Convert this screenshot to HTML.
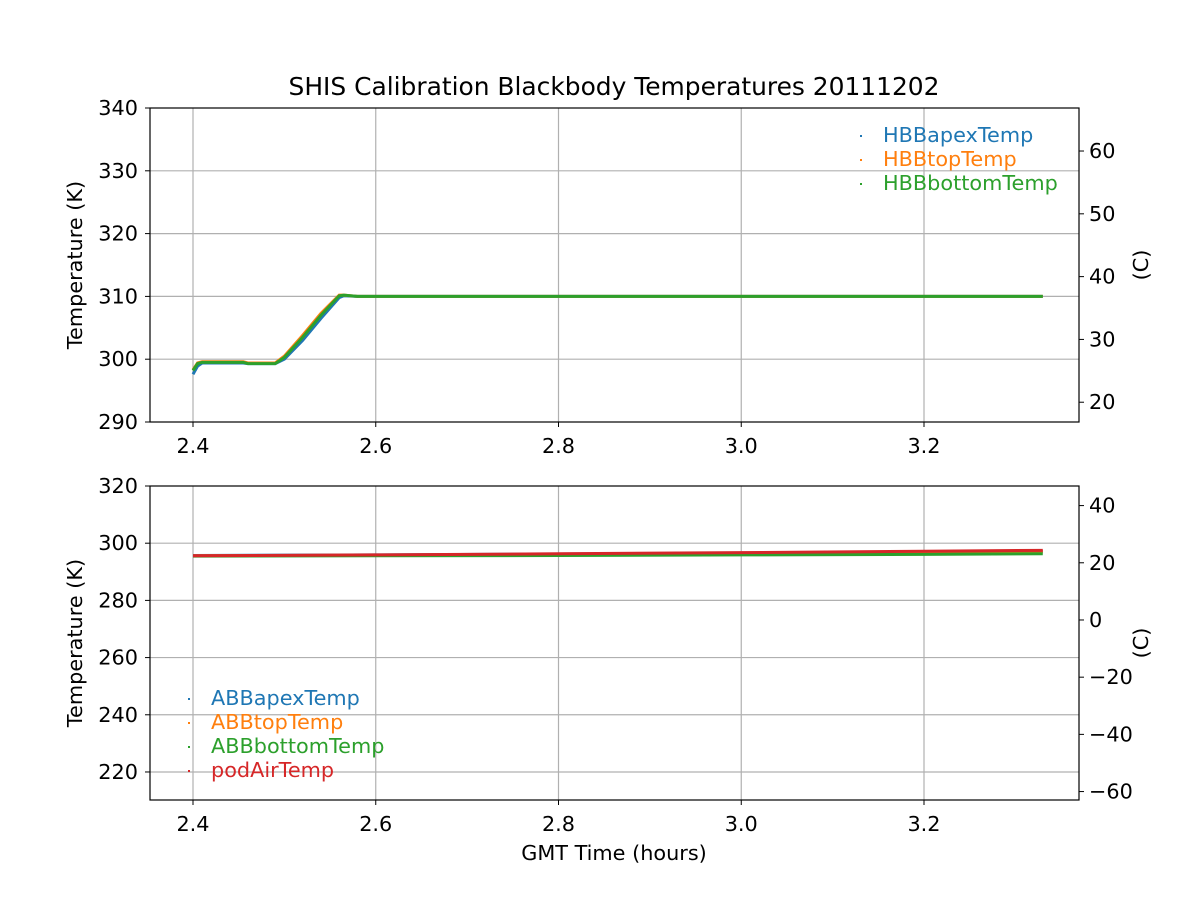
<!DOCTYPE html>
<html><head><meta charset="utf-8"><style>
body{margin:0;background:#fff;font-family:"Liberation Sans","DejaVu Sans",sans-serif}
svg text{font-family:"DejaVu Sans","Liberation Sans",sans-serif;font-size:20.8px;fill:#000}
</style></head><body>
<svg id="c" width="1200" height="900"></svg>
<script>
const hbbTimes=[2.40,2.405,2.41,2.455,2.46,2.49,2.50,2.52,2.54,2.56,2.565,2.58,2.70,3.00,3.33];
const hbbApex=[297.6,298.9,299.4,299.4,299.3,299.3,300.0,303.0,306.5,309.8,310.1,310.0,310.0,310.0,310.0];
const hbbTop=[298.3,299.4,299.6,299.6,299.4,299.4,300.5,303.8,307.3,310.2,310.2,310.0,310.0,310.0,310.0];
const hbbBottom=[298.2,299.3,299.5,299.5,299.3,299.3,300.3,303.5,307.0,310.1,310.2,310.0,310.0,310.0,310.0];
const abbTimes=[2.40,2.6,2.8,3.0,3.2,3.33];
const abbApex=[295.7,295.9,296.2,296.5,296.9,297.1];
const abbTop=[295.6,295.8,296.1,296.4,296.8,297.0];
const abbBottom=[295.5,295.6,295.7,295.9,296.1,296.3];
const podAir=[295.6,295.9,296.3,296.7,297.2,297.5];
const xTicks=[2.4,2.6,2.8,3.0,3.2];
const topYTicks=[290,300,310,320,330,340];
const topCTicks=[20,30,40,50,60];
const botYTicks=[220,240,260,280,300,320];
const botCTicks=[-60,-40,-20,0,20,40];
const NS="http://www.w3.org/2000/svg";
const svg=document.getElementById('c');
function el(t,a,p){const e=document.createElementNS(NS,t);for(const k in a)e.setAttribute(k,a[k]);(p||svg).appendChild(e);return e;}
const L=150,R=1079;
const xs=v=>193+(v-2.4)*913.75;
function panel(name,top,bot,ymin,ymax,yt,ct,series,lx,ly){
  const g=el('g',{});
  
  
  const ys=v=>bot-(v-ymin)/(ymax-ymin)*(bot-top);
  xTicks.forEach(t=>{const l=el('line',{x1:xs(t),x2:xs(t),y1:top,y2:bot,stroke:'#b0b0b0','stroke-width':1.2},g);
    el('line',{x1:xs(t),x2:xs(t),y1:bot,y2:bot+5,stroke:'#000'},g);
    const tx=el('text',{x:xs(t),y:bot+31,'text-anchor':'middle'},g);tx.textContent=t.toFixed(1);});
  yt.forEach(t=>{const y=ys(t);if(t>ymin&&t<ymax)el('line',{x1:L,x2:R,y1:y,y2:y,stroke:'#b0b0b0','stroke-width':1.2},g);
    el('line',{x1:L-5,x2:L,y1:y,y2:y,stroke:'#000'},g);
    const tx=el('text',{x:L-12,y:y+7,'text-anchor':'end'},g);tx.textContent=t;});
  ct.forEach(t=>{const y=ys(t+273.15);el('line',{x1:R,x2:R+5,y1:y,y2:y,stroke:'#000'},g);
    const tx=el('text',{x:R+10,y:y+7},g);tx.textContent=t<0?'\u2212'+(-t):t;});
  series.forEach(s=>{const pts=s.t.map((t,i)=>xs(t)+','+ys(s.v[i])).join(' ');
    const p=el('polyline',{points:pts,fill:'none',stroke:s.c,'stroke-width':3},g);
    });
  el('rect',{x:L,y:top,width:R-L,height:bot-top,fill:'none',stroke:'#000','stroke-width':1.2},g);
  const yl=el('text',{transform:`translate(82,${(top+bot)/2}) rotate(-90)`,'text-anchor':'middle'},g);yl.textContent='Temperature (K)';
  
  const cl=el('text',{transform:`translate(1148,${(top+bot)/2}) rotate(-90)`,'text-anchor':'middle'},g);cl.textContent='(C)';
  
  series.forEach((s,i)=>{const y=ly+i*24;
    el('rect',{x:lx-1,y:y-7,width:2,height:2,fill:s.c},g);
    const tx=el('text',{x:lx+22,y:y,fill:s.c},g);tx.setAttribute('style','fill:'+s.c);tx.textContent=s.n;
    });
}
panel('top-panel',108,422,290,340,topYTicks,topCTicks,[
 {n:'HBBapexTemp',t:hbbTimes,v:hbbApex,c:'#1f77b4'},
 {n:'HBBtopTemp',t:hbbTimes,v:hbbTop,c:'#ff7f0e'},
 {n:'HBBbottomTemp',t:hbbTimes,v:hbbBottom,c:'#2ca02c'}],861,142);
panel('bottom-panel',486,800,210.2,320,botYTicks,botCTicks,[
 {n:'ABBapexTemp',t:abbTimes,v:abbApex,c:'#1f77b4'},
 {n:'ABBtopTemp',t:abbTimes,v:abbTop,c:'#ff7f0e'},
 {n:'ABBbottomTemp',t:abbTimes,v:abbBottom,c:'#2ca02c'},
 {n:'podAirTemp',t:abbTimes,v:podAir,c:'#d62728'}],189,705);
const title=el('text',{x:614,y:95,'text-anchor':'middle',style:'font-size:24.9px'});title.textContent='SHIS Calibration Blackbody Temperatures 20111202';

const xl=el('text',{x:614,y:860,'text-anchor':'middle'});xl.textContent='GMT Time (hours)';

</script>
</body></html>
